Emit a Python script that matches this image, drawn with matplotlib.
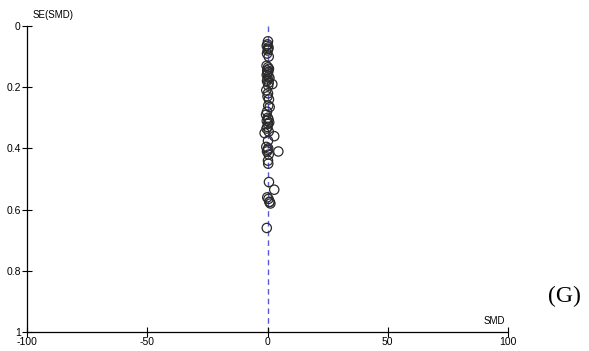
import matplotlib.pyplot as plt

plt.rcParams['font.family'] = ['Liberation Sans', 'DejaVu Sans']

# study effect sizes and their standard errors
smd = [0.2, -0.3, 0.4, 0.1, -0.2, 0.5, 0.0, 0.3,
       -0.4, 0.2, 0.6, -0.1, 0.3, 0.0, -0.3, 0.4, 0.8, 0.1, -0.2, 0.5, 2.0, 0.3,
       -0.5, 0.2, 0.0, 0.6, 0.3, -0.2, 0.9,
       -0.6, 0.1, 0.4, -0.3, 0.7, 0.2, 0.0, -0.4, 0.5,
       -1.2, 2.8, 0.2,
       -0.5, 0.3, 0.0, -0.2, 4.5, 0.5, 0.2,
       0.3, 0.6, 2.8, -0.1, 0.4, 0.8, 1.2, 0.9, -0.3]
se = [0.05, 0.065, 0.07, 0.08, 0.09, 0.1, 0.06, 0.075,
      0.13, 0.135, 0.14, 0.145, 0.15, 0.155, 0.16, 0.165, 0.17, 0.175, 0.18, 0.185, 0.19, 0.195,
      0.21, 0.22, 0.23, 0.24, 0.26, 0.28, 0.265,
      0.29, 0.3, 0.305, 0.31, 0.315, 0.32, 0.33, 0.335, 0.345,
      0.35, 0.36, 0.375,
      0.395, 0.4, 0.405, 0.41, 0.41, 0.42, 0.44,
      0.45, 0.51, 0.535, 0.56, 0.565, 0.575, 0.58, 0.575, 0.66]

xticks = [-100, -50, 0, 50, 100]
yticks = [0, 0.2, 0.4, 0.6, 0.8, 1]

fig = plt.figure(figsize=(5.89, 3.51), dpi=100)
ax = fig.add_axes([27/589, 19/351, 481/589, 306/351])

ax.plot([0, 0], [0, 1], color='#5a5ad8', linestyle=(0, (4, 3)), linewidth=1, zorder=1)
ax.scatter(smd, se, s=45, facecolors='none', edgecolors='#2a2a2a', linewidths=0.9, zorder=2)

ax.set_xlim(-100, 100)
ax.set_ylim(1, 0)
ax.set_xticks(xticks)
ax.set_xticklabels([str(t) for t in xticks])
ax.set_yticks(yticks)
ax.set_yticklabels(['0', '0.2', '0.4', '0.6', '0.8', '1'])
ax.tick_params(direction='inout', length=7, width=0.8, labelsize=7.5, pad=1,
               colors='black')
ax.tick_params(axis='x', pad=0)
ax.spines['top'].set_visible(False)
ax.spines['right'].set_visible(False)
ax.spines['left'].set_linewidth(0.9)
ax.spines['bottom'].set_linewidth(0.9)

ax.text(0.012, 1.035, 'SE(SMD)', transform=ax.transAxes, fontsize=7, ha='left', va='center')
ax.text(0.994, 0.035, 'SMD', transform=ax.transAxes, fontsize=7, ha='right', va='center')
fig.text(0.958, 0.154, '(G)', fontsize=17, family='Liberation Serif', ha='center', va='center')

fig.savefig('out.png', dpi=100)
